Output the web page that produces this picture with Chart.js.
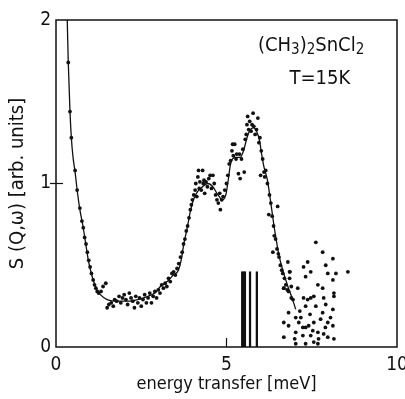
<!DOCTYPE html>
<html><head><meta charset="utf-8">
<script src="https://cdn.jsdelivr.net/npm/chart.js@4.4.1/dist/chart.umd.min.js"></script>
<style>html,body{margin:0;padding:0;background:#fff;}#wrap{width:405px;height:399px;}</style>
</head><body><div id="wrap"><canvas id="c" width="405" height="399"></canvas></div>
<script>
// ---- data ----
const xTicks = [0, 5, 10];
const yTicks = [0, 1, 2];
const xTitle = 'energy transfer [meV]';
const yTitle = 'S (Q,ω) [arb. units]';
const compoundParts = ['(CH', '3', ')', '2', 'SnCl', '2'];
const compoundSub = [false, true, false, true, false, true];
const tempLabel = 'T=15K';

// smooth fitted line
const curveE = [0.33,0.36,0.41,0.45,0.50,0.56,0.62,0.70,0.79,0.88,0.94,1.00,1.09,1.20,1.30,1.50,1.80,2.10,2.40,2.70,2.90,3.06,3.26,3.44,3.59,3.68,3.74,3.85,3.94,4.03,4.15,4.30,4.45,4.60,4.75,4.88,4.98,5.05,5.12,5.25,5.40,5.50,5.60,5.70,5.80,5.90,5.97,6.03,6.10,6.20,6.30,6.38,6.44,6.53,6.65,6.80,6.94,7.03];
const curveS = [2.00,1.74,1.44,1.28,1.16,1.07,0.96,0.84,0.74,0.62,0.54,0.48,0.41,0.35,0.32,0.29,0.28,0.28,0.29,0.31,0.33,0.37,0.40,0.44,0.47,0.54,0.62,0.73,0.83,0.90,0.95,0.98,1.00,0.98,0.93,0.90,0.93,1.02,1.12,1.16,1.16,1.20,1.28,1.33,1.34,1.31,1.26,1.18,1.10,1.02,0.88,0.76,0.68,0.57,0.47,0.37,0.29,0.23];

// measured points
const ptsE = [
  0.36,0.41,0.45,0.56,0.62,0.70,0.76,0.80,0.84,0.88,0.92,0.96,1.00,1.04,1.09,1.13,1.17,1.21,1.25,
  1.32,1.38,1.46,1.50,1.55,1.62,1.68,1.72,1.78,1.85,1.90,1.95,2.00,2.05,2.10,2.15,2.20,2.25,2.30,2.34,2.40,2.45,2.50,2.55,2.60,2.65,2.70,2.75,2.80,2.85,2.90,2.95,3.00,
  3.05,3.10,3.15,3.20,3.25,3.30,3.35,3.40,3.45,3.50,3.55,3.60,3.65,3.70,3.74,3.78,3.82,3.86,3.90,3.94,3.97,4.00,
  4.04,4.08,4.10,4.13,4.16,4.18,4.20,4.22,4.26,4.30,4.32,4.34,4.36,4.40,4.44,4.48,4.52,4.56,4.60,4.64,4.68,4.72,4.76,4.80,4.82,4.86,4.90,4.95,5.00,
  5.04,5.08,5.12,5.16,5.18,5.20,5.24,5.28,5.30,5.35,5.38,5.40,5.44,5.48,5.52,5.55,5.58,5.60,5.62,5.65,5.68,5.72,5.75,5.78,5.80,5.84,5.88,5.92,5.95,5.98,
  6.00,6.02,6.06,6.10,6.12,6.15,6.20,6.24,6.26,6.30,6.34,6.36,6.38,6.40,6.44,6.48,6.50,6.52,6.54,6.58,6.62,6.65,6.68,6.70,6.74,6.78,6.80,6.82,6.86,6.90,6.95,
  6.68,6.68,6.68,6.82,6.82,6.85,6.85,6.90,7.03,7.03,7.03,7.09,7.12,7.18,7.24,7.24,7.26,7.26,7.32,7.32,7.32,7.32,7.38,7.38,7.41,7.47,7.47,7.47,7.53,7.56,7.56,7.56,7.62,7.62,7.68,7.68,7.68,7.76,7.82,7.82,7.82,7.85,7.85,7.91,7.91,7.97,7.97,7.97,8.12,8.12,8.12,8.12,8.15,8.15,8.15,8.21,8.56,7.00,7.15,7.45,7.70,7.90,8.05
];
const ptsS = [
  1.74,1.44,1.28,1.08,0.96,0.85,0.77,0.73,0.67,0.63,0.58,0.53,0.49,0.45,0.41,0.38,0.36,0.34,0.33,
  0.34,0.37,0.39,0.24,0.26,0.27,0.25,0.29,0.28,0.31,0.27,0.30,0.32,0.29,0.26,0.33,0.30,0.28,0.24,0.31,0.27,0.30,0.25,0.29,0.32,0.27,0.30,0.33,0.27,0.31,0.34,0.30,0.35,
  0.33,0.38,0.36,0.39,0.37,0.42,0.40,0.45,0.46,0.44,0.48,0.51,0.55,0.58,0.63,0.66,0.71,0.74,0.79,0.84,0.87,0.90,
  0.93,0.96,1.00,0.92,1.04,1.08,0.97,1.01,0.96,1.08,1.00,1.02,0.94,1.01,0.98,1.03,1.05,0.97,1.05,1.00,0.93,0.90,0.88,0.94,0.84,0.90,0.92,0.96,1.00,
  1.05,1.12,1.14,1.20,1.24,1.17,1.24,1.15,1.18,1.06,1.18,1.03,1.15,1.21,1.07,1.27,1.30,1.36,1.41,1.33,1.38,1.32,1.36,1.43,1.35,1.30,1.33,1.40,1.25,1.28,
  1.05,1.20,1.15,1.07,1.04,1.08,1.00,0.81,0.93,0.88,0.80,0.58,0.74,0.68,0.66,0.60,0.86,0.57,0.55,0.50,0.47,0.45,0.36,0.42,0.38,0.35,0.52,0.34,0.46,0.30,0.29,
  0.36,0.15,0.06,0.21,0.13,0.46,0.42,0.37,0.18,0.09,0.02,0.36,0.15,0.18,0.12,0.07,0.49,0.30,0.43,0.25,0.12,0.02,0.52,0.29,0.13,0.46,0.30,0.07,0.10,0.31,0.15,0.03,0.64,0.25,0.38,0.09,0.02,0.17,0.58,0.36,0.21,0.30,0.08,0.50,0.26,0.45,0.15,0.06,0.54,0.41,0.23,0.13,0.33,0.31,0.05,0.45,0.46,0.05,0.22,0.20,0.05,0.12,0.18
];

// calculated transition lines (stick spectrum)
const barE = [5.46, 5.50, 5.54, 5.69, 5.89];
const barS = [0.46, 0.46, 0.46, 0.46, 0.46];

// ---- chart ----
const FONT = "'Liberation Sans Narrow','DejaVu Sans Condensed','DejaVu Sans',sans-serif";
const INK = '#111';

const framePlugin = {
  id: 'frame',
  afterDatasetsDraw(chart) {
    const {ctx, chartArea: a, scales: {x, y}} = chart;
    ctx.save();
    ctx.strokeStyle = INK;
    ctx.lineWidth = 1.5;
    ctx.strokeRect(a.left, a.top, a.right - a.left, a.bottom - a.top);
    ctx.lineWidth = 1.2;
    yTicks.slice(1, -1).forEach(v => {
      const p = y.getPixelForValue(v);
      ctx.beginPath(); ctx.moveTo(a.left - 6, p); ctx.lineTo(a.left + 7, p); ctx.stroke();
    });
    xTicks.slice(1, -1).forEach(v => {
      const p = x.getPixelForValue(v);
      ctx.beginPath(); ctx.moveTo(p, a.bottom); ctx.lineTo(p, a.bottom - 9); ctx.stroke();
    });
    ctx.restore();
  },
  afterDraw(chart) {
    const {ctx, scales: {x, y}} = chart;
    ctx.save();
    ctx.fillStyle = INK;
    ctx.textBaseline = 'alphabetic';
    const big = '20px ' + FONT, small = '15px ' + FONT;
    let total = 0;
    compoundParts.forEach((t, i) => { ctx.font = compoundSub[i] ? small : big; total += ctx.measureText(t).width; });
    let cx = x.getPixelForValue(7.48) - total / 2;
    const by = y.getPixelForValue(1.81);
    compoundParts.forEach((t, i) => {
      ctx.font = compoundSub[i] ? small : big;
      ctx.textAlign = 'left';
      ctx.fillText(t, cx, by + (compoundSub[i] ? 3 : 0));
      cx += ctx.measureText(t).width;
    });
    ctx.font = big;
    ctx.textAlign = 'center';
    ctx.fillText(tempLabel, x.getPixelForValue(7.74), y.getPixelForValue(1.61));
    ctx.restore();
  }
};

new Chart(document.getElementById('c'), {
  type: 'scatter',
  data: {
    datasets: [
      {
        type: 'line',
        data: curveE.map((e, i) => ({x: e, y: curveS[i]})),
        borderColor: INK, borderWidth: 1.3, pointRadius: 0, fill: false,
        cubicInterpolationMode: 'monotone', order: 2
      },
      {
        type: 'scatter',
        data: ptsE.map((e, i) => ({x: e, y: ptsS[i]})),
        backgroundColor: INK, borderColor: INK, borderWidth: 0, pointRadius: 1.9, order: 1
      },
      {
        type: 'bar',
        data: barE.map((e, i) => ({x: e, y: barS[i]})),
        backgroundColor: INK, borderWidth: 0, barThickness: 1.6, order: 3
      }
    ]
  },
  options: {
    responsive: false,
    animation: false,
    events: [],
    layout: {padding: {top: 20, right: 8, left: 0, bottom: 0}},
    plugins: {legend: {display: false}, tooltip: {enabled: false}},
    scales: {
      x: {
        type: 'linear', min: 0, max: 10, offset: false,
        afterBuildTicks: s => { s.ticks = xTicks.map(v => ({value: v})); },
        afterFit: s => { s.height = 52; s.paddingLeft = 0; s.paddingRight = 0; },
        grid: {display: false, drawTicks: false, offset: false},
        border: {display: false},
        ticks: {color: INK, font: {family: FONT, size: 19}, padding: 7, maxRotation: 0},
        title: {display: true, text: xTitle, color: INK, font: {family: FONT, size: 18}, padding: {top: 0, bottom: 4}}
      },
      y: {
        type: 'linear', min: 0, max: 2,
        afterBuildTicks: s => { s.ticks = yTicks.map(v => ({value: v})); },
        afterFit: s => { s.width = 56; s.paddingTop = 0; s.paddingBottom = 0; },
        grid: {display: false, drawTicks: false},
        border: {display: false},
        ticks: {color: INK, font: {family: FONT, size: 19}, padding: 5},
        title: {display: true, text: yTitle, color: INK, font: {family: FONT, size: 20}, padding: {top: 6, bottom: 0}}
      }
    }
  },
  plugins: [framePlugin]
});
</script>
</body></html>
